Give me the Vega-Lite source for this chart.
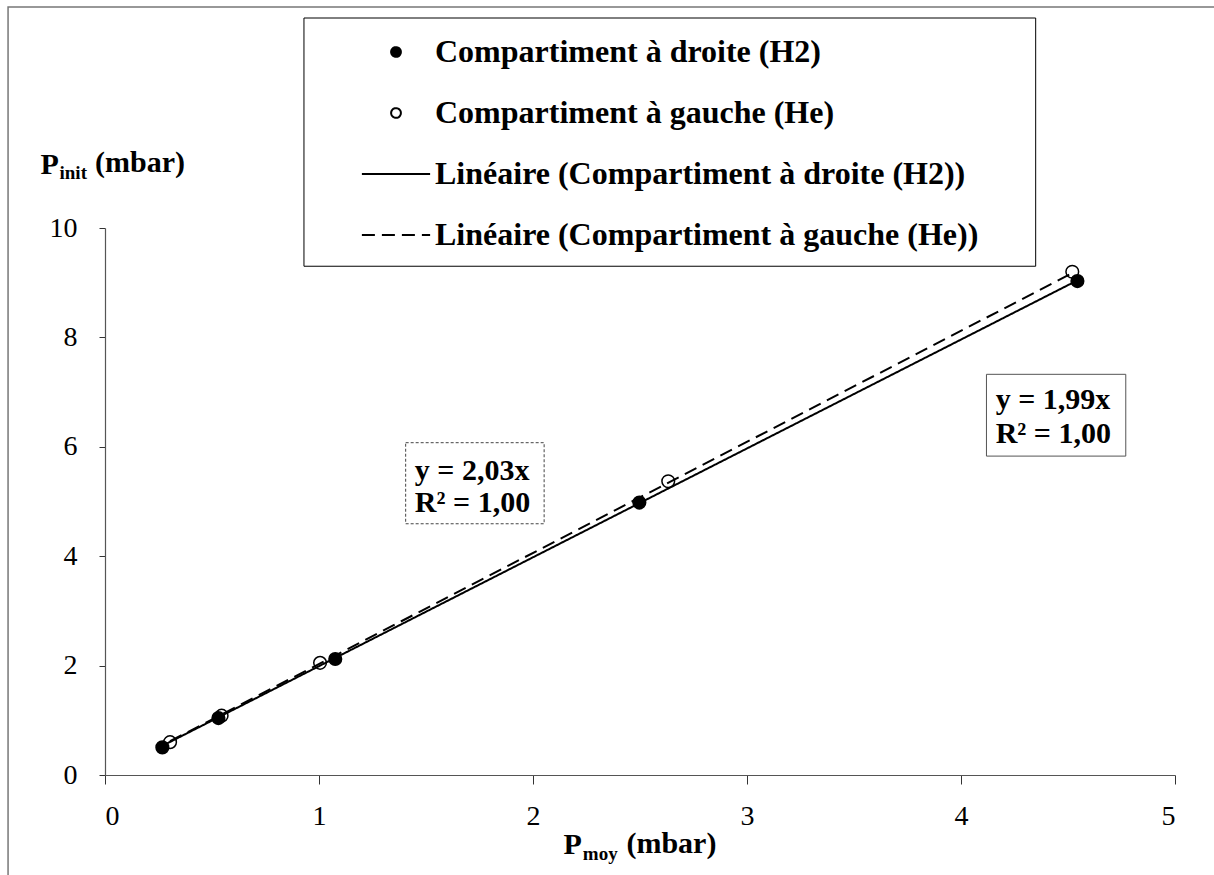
{
  "$schema": "https://vega.github.io/schema/vega-lite/v6.json",
  "width": 1070,
  "height": 547,
  "autosize": {"type": "none"},
  "padding": {"left": 105, "top": 228, "right": 39, "bottom": 100},
  "background": "white",
  "config": {
    "view": {"stroke": null},
    "font": "Liberation Serif",
    "axis": {
      "grid": false,
      "domainColor": "#555",
      "domainWidth": 1.2,
      "tickColor": "#333",
      "labelFont": "Liberation Serif",
      "labelFontSize": 28,
      "labelColor": "black",
      "titleFont": "Liberation Serif",
      "titleFontSize": 30,
      "titleFontWeight": "bold",
      "titleColor": "black"
    },
    "legend": {
      "orient": "none",
      "legendX": 199,
      "legendY": -209,
      "padding": 17,
      "strokeColor": "transparent",
      "fillColor": "transparent",
      "labelFont": "Liberation Serif",
      "labelFontSize": 32,
      "labelFontWeight": "bold",
      "labelColor": "black",
      "labelLimit": 0,
      "symbolSize": 95,
      "symbolStrokeColor": "black",
      "symbolStrokeWidth": 2,
      "symbolOffset": 59,
      "labelOffset": 23,
      "rowPadding": 29
    }
  },
  "datasets": {
    "points": [
      {"series": "Compartiment à gauche (He)", "p_moy": 0.304, "p_init": 0.6},
      {"series": "Compartiment à gauche (He)", "p_moy": 0.545, "p_init": 1.085},
      {"series": "Compartiment à gauche (He)", "p_moy": 1.005, "p_init": 2.05},
      {"series": "Compartiment à gauche (He)", "p_moy": 2.632, "p_init": 5.37},
      {"series": "Compartiment à gauche (He)", "p_moy": 4.52, "p_init": 9.2},
      {"series": "Compartiment à droite (H2)", "p_moy": 0.268, "p_init": 0.505},
      {"series": "Compartiment à droite (H2)", "p_moy": 0.53, "p_init": 1.04},
      {"series": "Compartiment à droite (H2)", "p_moy": 1.076, "p_init": 2.12},
      {"series": "Compartiment à droite (H2)", "p_moy": 2.497, "p_init": 4.98},
      {"series": "Compartiment à droite (H2)", "p_moy": 4.544, "p_init": 9.03}
    ],
    "fits": [
      {"series": "Linéaire (Compartiment à droite (H2))", "p_moy": 0.268, "p_init": 0.533},
      {"series": "Linéaire (Compartiment à droite (H2))", "p_moy": 4.544, "p_init": 9.043},
      {"series": "Linéaire (Compartiment à gauche (He))", "p_moy": 0.304, "p_init": 0.617},
      {"series": "Linéaire (Compartiment à gauche (He))", "p_moy": 4.52, "p_init": 9.176}
    ]
  },
  "layer": [
    {
      "data": {"values": [{}]},
      "mark": {"type": "rect", "fill": "white", "fillOpacity": 0, "stroke": "#777", "strokeWidth": 1.5, "clip": false},
      "encoding": {
        "x": {"datum": -0.453, "type": "quantitative"},
        "x2": {"datum": 5.6},
        "y": {"datum": 14.04, "type": "quantitative"},
        "y2": {"datum": -3}
      }
    },
    {
      "data": {"values": [{}]},
      "mark": {"type": "rect", "fill": "white", "stroke": "black", "strokeWidth": 1, "clip": false},
      "encoding": {
        "x": {"datum": 0.9297, "type": "quantitative"},
        "x2": {"datum": 4.349},
        "y": {"datum": 13.839, "type": "quantitative"},
        "y2": {"datum": 9.301}
      }
    },
    {
      "data": {"name": "fits"},
      "mark": {"type": "line", "color": "black", "strokeWidth": 2},
      "encoding": {
        "x": {
          "field": "p_moy", "type": "quantitative",
          "scale": {"domain": [0, 5], "nice": false, "zero": false},
          "axis": {
            "values": [0, 1, 2, 3, 4, 5],
            "format": "d",
            "tickSize": 9,
            "labelPadding": 18,
            "labelFont": "Liberation Serif",
            "labelFontSize": 28,
            "title": "P",
            "titleX": 458,
            "titleAlign": "left",
            "titleY": 78,
            "titleBaseline": "alphabetic"
          }
        },
        "y": {
          "field": "p_init", "type": "quantitative",
          "scale": {"domain": [0, 10], "nice": false, "zero": false},
          "axis": {
            "values": [0, 2, 4, 6, 8, 10],
            "format": "d",
            "tickSize": 6,
            "labelPadding": 22,
            "labelFont": "Liberation Serif",
            "labelFontSize": 28,
            "title": "P",
            "titleAngle": 0,
            "titleAlign": "left",
            "titleBaseline": "alphabetic",
            "titleX": -65,
            "titleY": -55
          }
        },
        "strokeDash": {
          "field": "series", "type": "nominal",
          "scale": {
            "domain": ["Compartiment à droite (H2)", "Compartiment à gauche (He)", "Linéaire (Compartiment à droite (H2))", "Linéaire (Compartiment à gauche (He))"],
            "range": [[1, 0], [1, 0], [1, 0], [13, 7]]
          },
          "legend": {"title": null, "symbolStrokeColor": "black", "symbolStrokeWidth": 2, "encode": {"symbols": {"update": {"stroke": {"value": "black"}, "strokeWidth": {"value": 2}}}}}
        }
      }
    },
    {
      "data": {"name": "points"},
      "mark": {"type": "point", "filled": true, "stroke": "black", "strokeWidth": 1.5, "size": 160, "opacity": 1},
      "encoding": {
        "x": {"field": "p_moy", "type": "quantitative"},
        "y": {"field": "p_init", "type": "quantitative"},
        "shape": {
          "field": "series", "type": "nominal",
          "scale": {
            "domain": ["Compartiment à droite (H2)", "Compartiment à gauche (He)", "Linéaire (Compartiment à droite (H2))", "Linéaire (Compartiment à gauche (He))"],
            "range": ["circle", "circle", "M-7,0H7", "M-7,0H7"]
          },
          "legend": {"title": null, "symbolStrokeColor": "black", "symbolStrokeWidth": 2, "encode": {"symbols": {"update": {"stroke": {"value": "black"}, "strokeWidth": {"value": 2}}}}}
        },
        "fill": {
          "field": "series", "type": "nominal",
          "scale": {
            "domain": ["Compartiment à droite (H2)", "Compartiment à gauche (He)", "Linéaire (Compartiment à droite (H2))", "Linéaire (Compartiment à gauche (He))"],
            "range": ["black", "transparent", "transparent", "transparent"]
          },
          "legend": {"title": null, "symbolStrokeColor": "black", "symbolStrokeWidth": 2, "encode": {"symbols": {"update": {"stroke": {"value": "black"}, "strokeWidth": {"value": 2}}}}}
        }
      }
    },
    {
      "data": {"values": [{}]},
      "mark": {"type": "rect", "fill": "white", "stroke": "#444", "strokeWidth": 1, "strokeDash": [3, 2]},
      "encoding": {
        "x": {"datum": 1.405, "type": "quantitative"},
        "x2": {"datum": 2.052},
        "y": {"datum": 6.075, "type": "quantitative"},
        "y2": {"datum": 4.593}
      }
    },
    {
      "data": {"values": [{}]},
      "mark": {"type": "text", "text": ["y = 2,03x", "R² = 1,00"], "align": "left", "baseline": "alphabetic", "font": "Liberation Serif", "fontSize": 30, "fontWeight": "bold", "lineHeight": 32, "color": "black"},
      "encoding": {
        "x": {"datum": 1.448, "type": "quantitative"},
        "y": {"datum": 5.4, "type": "quantitative"}
      }
    },
    {
      "data": {"values": [{}]},
      "mark": {"type": "rect", "fill": "white", "stroke": "#555", "strokeWidth": 1},
      "encoding": {
        "x": {"datum": 4.119, "type": "quantitative"},
        "x2": {"datum": 4.77},
        "y": {"datum": 7.325, "type": "quantitative"},
        "y2": {"datum": 5.83}
      }
    },
    {
      "data": {"values": [{}]},
      "mark": {"type": "text", "text": ["y = 1,99x", "R² = 1,00"], "align": "left", "baseline": "alphabetic", "font": "Liberation Serif", "fontSize": 30, "fontWeight": "bold", "lineHeight": 34, "color": "black"},
      "encoding": {
        "x": {"datum": 4.162, "type": "quantitative"},
        "y": {"datum": 6.684, "type": "quantitative"}
      }
    },
    {
      "data": {"values": [{}]},
      "mark": {"type": "text", "text": "init", "align": "left", "baseline": "alphabetic", "font": "Liberation Serif", "fontSize": 19, "fontWeight": "bold", "color": "black", "clip": false},
      "encoding": {
        "x": {"datum": -0.2126, "type": "quantitative"},
        "y": {"datum": 10.89, "type": "quantitative"}
      }
    },
    {
      "data": {"values": [{}]},
      "mark": {"type": "text", "text": "(mbar)", "align": "left", "baseline": "alphabetic", "font": "Liberation Serif", "fontSize": 30, "fontWeight": "bold", "color": "black", "clip": false},
      "encoding": {
        "x": {"datum": -0.0467, "type": "quantitative"},
        "y": {"datum": 11.021, "type": "quantitative"}
      }
    },
    {
      "data": {"values": [{}]},
      "mark": {"type": "text", "text": "moy", "align": "left", "baseline": "alphabetic", "font": "Liberation Serif", "fontSize": 19, "fontWeight": "bold", "color": "black", "clip": false},
      "encoding": {
        "x": {"datum": 2.233, "type": "quantitative"},
        "y": {"datum": -1.55, "type": "quantitative"}
      }
    },
    {
      "data": {"values": [{}]},
      "mark": {"type": "text", "text": "(mbar)", "align": "left", "baseline": "alphabetic", "font": "Liberation Serif", "fontSize": 30, "fontWeight": "bold", "color": "black", "clip": false},
      "encoding": {
        "x": {"datum": 2.4367, "type": "quantitative"},
        "y": {"datum": -1.4218, "type": "quantitative"}
      }
    }
  ]
}
